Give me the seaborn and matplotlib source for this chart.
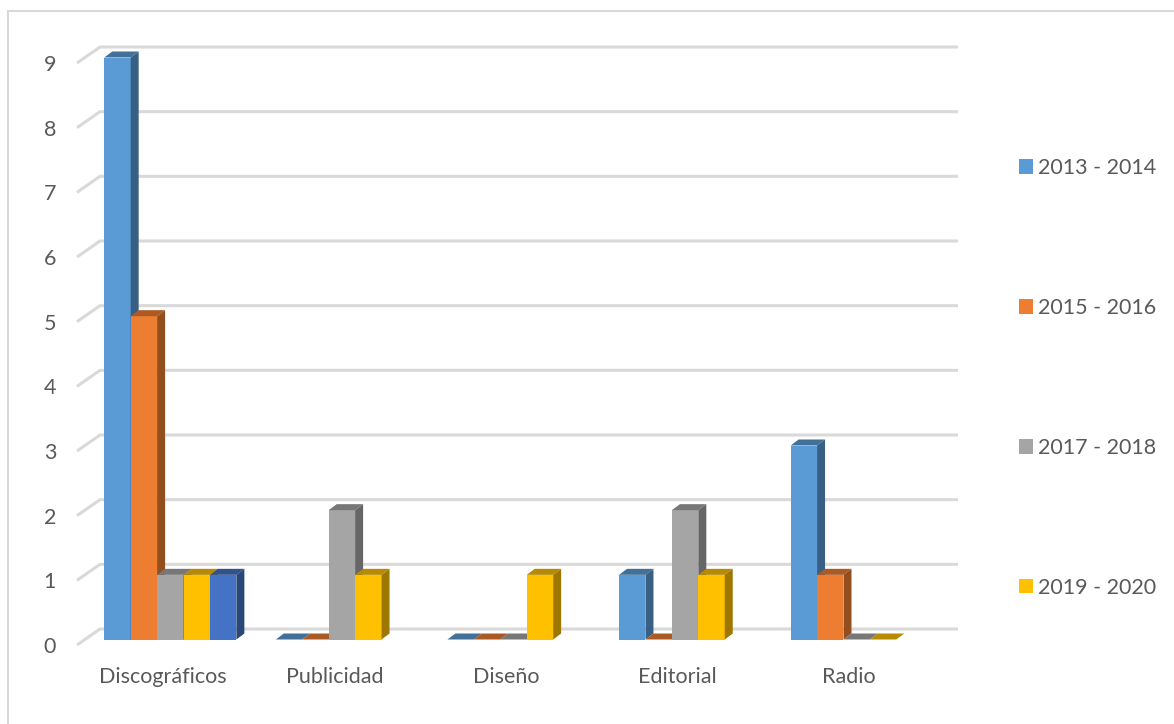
import numpy as np
import pandas as pd
import matplotlib
matplotlib.use("Agg")
import matplotlib.pyplot as plt
import matplotlib.transforms as mtransforms
from matplotlib.patches import Polygon, Patch
from matplotlib.lines import Line2D
import seaborn as sns

# ---- data ----
categories = ["Discográficos", "Publicidad", "Diseño", "Editorial", "Radio"]
series_names = ["2013 - 2014", "2015 - 2016", "2017 - 2018", "2019 - 2020", "Serie 5"]
s2013 = [9, 0, 0, 1, 3]
s2015 = [5, 0, 0, 0, 1]
s2017 = [1, 2, 0, 2, 0]
s2019 = [1, 1, 1, 1, 0]
s5 = [1, np.nan, np.nan, np.nan, np.nan]
legend_names = ["2013 - 2014", "2015 - 2016", "2017 - 2018", "2019 - 2020"]
colors = ["#5B9BD5", "#ED7D31", "#A5A5A5", "#FFC000", "#4472C4"]

rows = []
for name, vals in zip(series_names, [s2013, s2015, s2017, s2019, s5]):
    for c, v in zip(categories, vals):
        rows.append({"cat": c, "val": v, "series": name})
df = pd.DataFrame(rows)

W, H = 1174, 724
sns.set_theme(style="white")
plt.rcParams["font.family"] = ["Lato", "DejaVu Sans"]
TXT = "#595959"
GRID = "#D9D9D9"
FS = 15.5

fig = plt.figure(figsize=(W / 100, H / 100), dpi=100)
ax_left, ax_right, ax_bottom, ax_top = 77, 935, 645, 63
ax = fig.add_axes([ax_left / W, 1 - ax_bottom / H, (ax_right - ax_left) / W, (ax_bottom - ax_top) / H])

sns.barplot(data=df, x="cat", y="val", hue="series", hue_order=series_names,
            order=categories, palette=colors, width=0.77, dodge=True,
            saturation=1, legend=False, ax=ax, errorbar=None)

ax.set_ylim(0, 9)
ax.set_xlim(-0.5, len(categories) - 0.5)
ax.set_yticks(range(0, 10))
for s in ax.spines.values():
    s.set_visible(False)
ax.grid(False)
ax.set_xlabel("")
ax.set_ylabel("")
ax.tick_params(axis="both", length=0, colors=TXT, labelsize=FS)
ax.tick_params(axis="y", pad=15)
ax.tick_params(axis="x", pad=16)
ax.patch.set_alpha(0)

# ---- gridlines on back wall with side-wall diagonals ----
fig.canvas.draw()
back_dx, back_dy = 23, 16
grid_right = 958
for v in range(0, 10):
    fx, fy = ax.transData.transform((ax.get_xlim()[0], v))
    bx, by = fx + back_dx, fy + back_dy
    xs = [fx, bx, grid_right]
    ys = [fy, by, by]
    fig.add_artist(Line2D([x / W for x in xs], [y / H for y in ys],
                          color=GRID, lw=2.2, zorder=0, solid_capstyle="butt"))

# ---- pseudo-3D bars ----
bar_dx, bar_dy = 7.5 / 100, 5.5 / 100  # inches
offset = mtransforms.ScaledTranslation(bar_dx, bar_dy, fig.dpi_scale_trans)
trans = ax.transData + offset
xr = ax.get_xlim()[1] - ax.get_xlim()[0]
ddx = 8 * xr / (ax_right - ax_left)
ddy = 6 * 9 / (ax_bottom - ax_top)

def shade(c, f):
    r, g, b, a = c
    return (r * f, g * f, b * f, 1)

bars = [p for p in ax.patches if np.isfinite(p.get_height())]
bars.sort(key=lambda p: p.get_x())
for i, p in enumerate(bars):
    x0 = p.get_x()
    w = p.get_width()
    h = p.get_height()
    col = p.get_facecolor()
    z = 2 + i * 0.01
    p.set_transform(trans)
    p.set_edgecolor("none")
    p.set_zorder(z)
    p.set_clip_on(False)
    top = Polygon([(x0, h), (x0 + w, h), (x0 + w + ddx, h + ddy), (x0 + ddx, h + ddy)],
                  closed=True, facecolor=shade(col, 0.72), edgecolor="none",
                  transform=trans, zorder=z, clip_on=False)
    ax.add_patch(top)
    if h > 0:
        side = Polygon([(x0 + w, 0), (x0 + w + ddx, ddy), (x0 + w + ddx, h + ddy), (x0 + w, h)],
                       closed=True, facecolor=shade(col, 0.62), edgecolor="none",
                       transform=trans, zorder=z, clip_on=False)
        ax.add_patch(side)

# ---- legend ----
handles = [Patch(facecolor=c, edgecolor="none") for c in colors[:4]]
fig.legend(handles, legend_names, loc="center left",
           bbox_to_anchor=(1008 / W, 1 - 378 / H), frameon=False,
           fontsize=FS, labelcolor=TXT, handlelength=0.65, handleheight=0.65,
           handletextpad=0.25, labelspacing=5.57, borderpad=0)

# ---- chart border (top and left visible) ----
fig.add_artist(Line2D([8 / W, 1], [1 - 11 / H, 1 - 11 / H], color=GRID, lw=1.5))
fig.add_artist(Line2D([8 / W, 8 / W], [0, 1 - 11 / H], color=GRID, lw=1.5))

fig.savefig("out.png", dpi=100, facecolor="white")
